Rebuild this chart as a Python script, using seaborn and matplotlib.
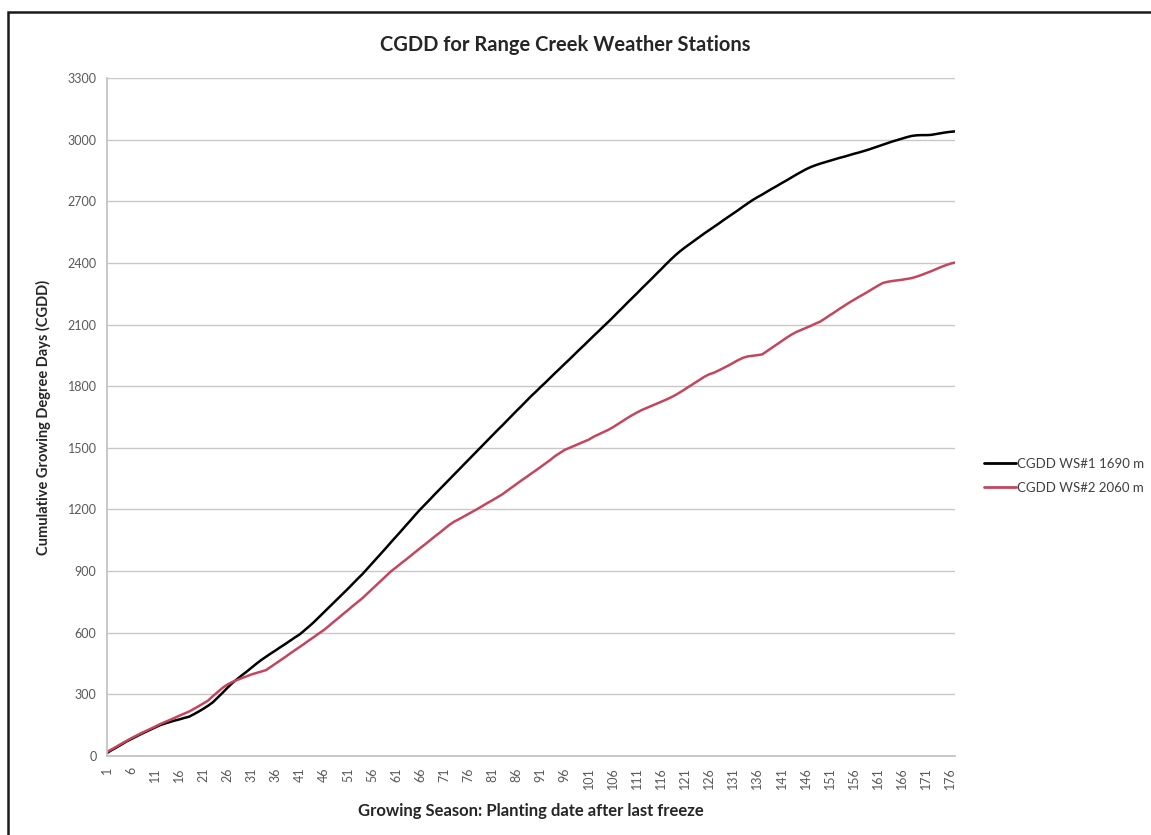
import numpy as np
import pandas as pd
import matplotlib
matplotlib.use("Agg")
import matplotlib.pyplot as plt
import matplotlib.patches as patches
import seaborn as sns

# Daily CGDD values (day 1 .. 177)
ws1_cgdd = [
    15, 29, 42, 56, 70, 82, 94, 106, 117, 128,
    139, 150, 158, 165, 172, 178, 185, 191, 203, 216,
    230, 245, 262, 285, 308, 332, 355, 374, 393, 411,
    430, 449, 467, 483, 499, 514, 530, 545, 561, 577,
    592, 612, 632, 653, 676, 699, 722, 745, 768, 791,
    814, 838, 862, 885, 911, 937, 963, 989, 1015, 1042,
    1068, 1094, 1121, 1147, 1174, 1200, 1224, 1248, 1273, 1297,
    1321, 1345, 1369, 1393, 1417, 1441, 1465, 1489, 1513, 1537,
    1561, 1585, 1608, 1632, 1656, 1680, 1703, 1727, 1751, 1773,
    1796, 1818, 1841, 1864, 1886, 1909, 1931, 1954, 1977, 1999,
    2022, 2045, 2067, 2090, 2112, 2135, 2159, 2182, 2206, 2229,
    2252, 2276, 2299, 2322, 2346, 2369, 2393, 2416, 2438, 2458,
    2476, 2493, 2510, 2527, 2544, 2560, 2576, 2592, 2609, 2625,
    2641, 2657, 2674, 2690, 2706, 2720, 2733, 2747, 2761, 2774,
    2788, 2801, 2815, 2829, 2842, 2855, 2866, 2875, 2883, 2890,
    2897, 2904, 2911, 2917, 2924, 2931, 2937, 2944, 2951, 2959,
    2967, 2975, 2983, 2991, 2998, 3005, 3012, 3018, 3021, 3022,
    3022, 3023, 3027, 3031, 3035, 3038, 3040,
]
ws2_cgdd = [
    20, 33, 46, 60, 73, 86, 98, 110, 121, 132,
    143, 155, 165, 175, 185, 196, 206, 216, 229, 242,
    256, 270, 292, 312, 332, 348, 360, 370, 379, 388,
    397, 404, 411, 418, 434, 450, 466, 482, 499, 515,
    531, 547, 564, 580, 597, 613, 632, 652, 671, 691,
    710, 730, 749, 768, 790, 812, 834, 856, 878, 900,
    918, 937, 955, 974, 993, 1012, 1030, 1049, 1068, 1086,
    1105, 1124, 1140, 1152, 1165, 1178, 1191, 1204, 1218, 1232,
    1245, 1259, 1273, 1290, 1307, 1324, 1341, 1357, 1374, 1390,
    1407, 1424, 1441, 1460, 1475, 1490, 1500, 1510, 1520, 1530,
    1540, 1554, 1565, 1576, 1587, 1600, 1615, 1630, 1645, 1659,
    1672, 1684, 1694, 1704, 1714, 1724, 1734, 1745, 1757, 1771,
    1786, 1801, 1816, 1831, 1846, 1858, 1866, 1877, 1889, 1901,
    1914, 1927, 1938, 1945, 1948, 1951, 1955, 1971, 1987, 2003,
    2019, 2035, 2050, 2063, 2073, 2083, 2093, 2104, 2114, 2129,
    2145, 2160, 2176, 2191, 2206, 2220, 2234, 2247, 2261, 2275,
    2289, 2302, 2308, 2312, 2315, 2318, 2322, 2326, 2333, 2341,
    2350, 2359, 2369, 2379, 2388, 2396, 2402,
]
series_names = ["CGDD WS#1 1690 m", "CGDD WS#2 2060 m"]
series_colors = ["#000000", "#C4465E"]
y_ticks = list(range(0, 3301, 300))

days = list(range(1, len(ws1_cgdd) + 1))
df = pd.DataFrame({
    "day": days + days,
    "cgdd": ws1_cgdd + ws2_cgdd,
    "station": [series_names[0]] * len(days) + [series_names[1]] * len(days),
})

sns.set_theme(style="white")
plt.rcParams['font.family'] = ['Lato', 'DejaVu Sans']

fig = plt.figure(figsize=(11.51, 8.35), dpi=100)
ax = fig.add_axes([107 / 1151, 79 / 835, 848 / 1151, 678 / 835])

sns.lineplot(data=df, x="day", y="cgdd", hue="station",
             palette=dict(zip(series_names, series_colors)),
             linewidth=1.8, ax=ax, legend=False)

ax.set_xlim(1, days[-1])
ax.set_ylim(0, 3300)
ax.set_yticks(y_ticks)
ax.set_xticks(days[::5])
ax.set_xticklabels([str(d) for d in days[::5]], rotation=90)
ax.tick_params(axis="both", labelsize=9, labelcolor="#595959",
               length=4, color="#bfbfbf", direction="out")
ax.tick_params(axis="x", pad=4)
ax.grid(axis="y", color="#c8c8c8", linewidth=1)
ax.set_axisbelow(True)
for side in ["top", "right"]:
    ax.spines[side].set_visible(False)
for side in ["left", "bottom"]:
    ax.spines[side].set_color("#bfbfbf")
    ax.spines[side].set_linewidth(1.2)

ax.set_xlabel("Growing Season: Planting date after last freeze",
              fontsize=12, fontweight="bold", color="#262626", labelpad=10)
ax.set_ylabel("Cumulative Growing Degree Days (CGDD)",
              fontsize=10.5, fontweight="bold", color="#262626", labelpad=12)

fig.text(565 / 1151, 1 - 45 / 835, "CGDD for Range Creek Weather Stations",
         ha="center", va="center", fontsize=14.5, fontweight="bold", color="#262626")

handles = [plt.Line2D([], [], color=c, linewidth=2) for c in series_colors]
fig.legend(handles, series_names, loc="center left",
           bbox_to_anchor=(972 / 1151, 1 - 476 / 835), frameon=False,
           fontsize=9.5, labelcolor="#404040", handlelength=2.4,
           handletextpad=0.1, labelspacing=0.9)

# chart border, cut off at right and bottom like the reference
fig.patches.append(patches.Rectangle((8 / 1151, -0.1), 1.2, 1.1 - 12 / 835,
                                     transform=fig.transFigure, fill=False,
                                     edgecolor="#1a1a1a", linewidth=1.8))

fig.savefig("out.png", dpi=100)
